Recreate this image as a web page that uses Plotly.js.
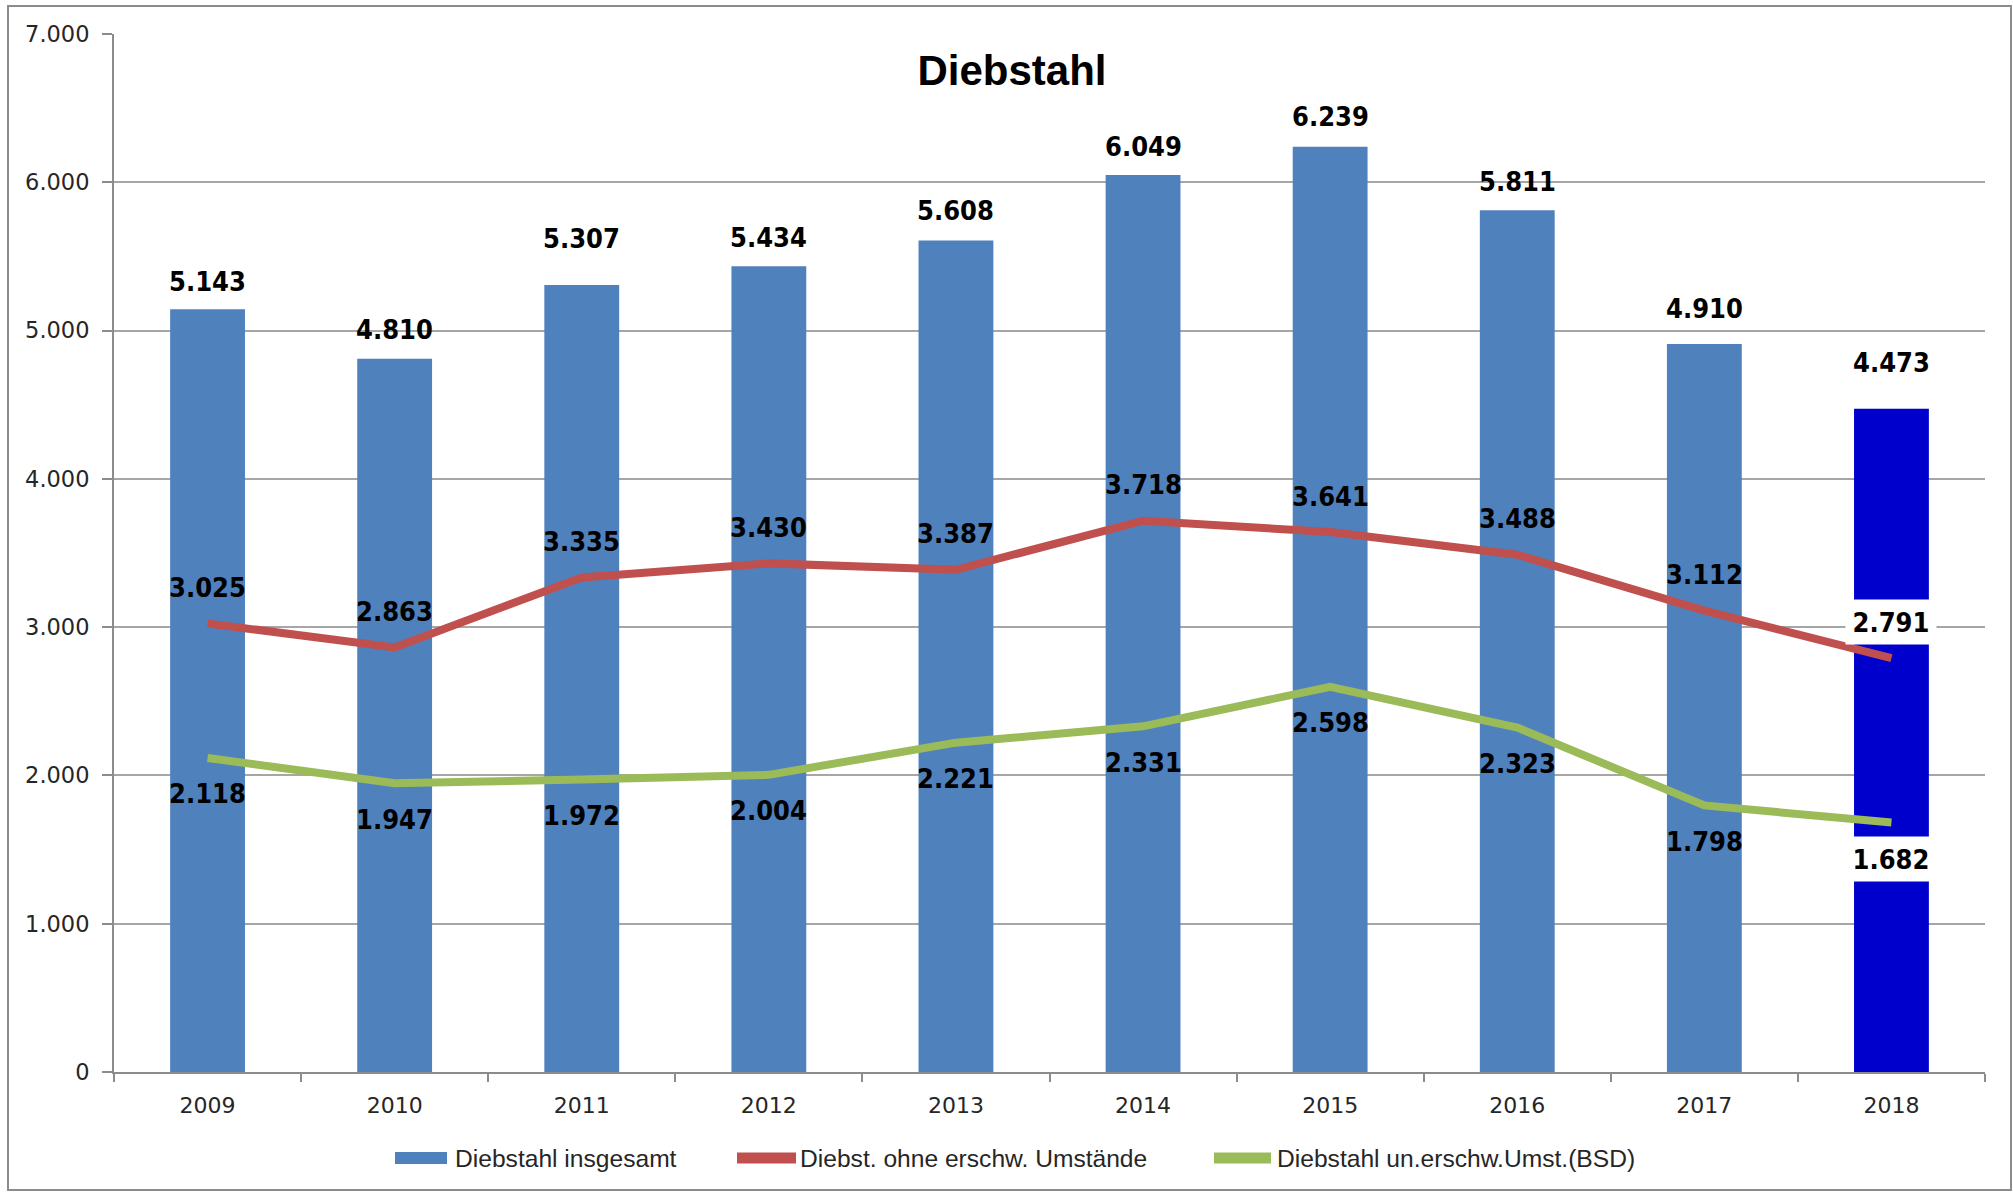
<!DOCTYPE html>
<html>
<head>
<meta charset="utf-8">
<script src="https://cdn.plot.ly/plotly-3.0.1.min.js"></script>
<style>
html, body { margin: 0; padding: 0; background: #ffffff; }
#chart { width: 2013px; height: 1192px; }
</style>
</head>
<body>
<div id="chart"></div>
<script>
// ---- Data ----
var years = ['2009', '2010', '2011', '2012', '2013', '2014', '2015', '2016', '2017', '2018'];
var totalTheft = [5143, 4810, 5307, 5434, 5608, 6049, 6239, 5811, 4910, 4473];
var theftSimple = [3025, 2863, 3335, 3430, 3387, 3718, 3641, 3488, 3112, 2791];
var theftAggravated = [2118, 1947, 1972, 2004, 2221, 2331, 2598, 2323, 1798, 1682];
var seriesNames = ['Diebstahl insgesamt', 'Diebst. ohne erschw. Umstände', 'Diebstahl un.erschw.Umst.(BSD)'];
var chartTitle = 'Diebstahl';

// ---- Styles ----
var barColor = '#4F81BD';
var barHighlight = '#0000CC';
var redColor = '#C0504D';
var greenColor = '#9BBB59';
var gridColor = '#A6A6A6';
var axisColor = '#8C8C8C';
var textColor = '#262626';
var labelFont = { family: 'DejaVu Sans Condensed, DejaVu Sans, sans-serif', size: 27, color: '#000000', weight: 'bold' };
var barLabelShift = [28, 29, 47, 29, 30, 29, 30, 29, 35, 46];

// plot area in pixels
var W = 2013, H = 1192;
var L = 114, R = 1985, T = 34, B = 1072;
function px(x) { return (x - L) / (R - L); }
function py(y) { return (B - y) / (B - T); }

function fmt(v) {
  var s = Math.round(v).toString();
  var out = '';
  while (s.length > 3) { out = '.' + s.slice(-3) + out; s = s.slice(0, -3); }
  return s + out;
}

var lastIdx = years.length - 1;
var barColors = years.map(function (y, i) { return i === lastIdx ? barHighlight : barColor; });

var traces = [
  {
    type: 'bar', x: years, y: totalTheft, name: seriesNames[0],
    marker: { color: barColors, line: { width: 0 } },
    hoverinfo: 'x+y', showlegend: false
  },
  {
    type: 'scatter', mode: 'lines', x: years, y: theftSimple, name: seriesNames[1],
    line: { color: redColor, width: 8 }, showlegend: false
  },
  {
    type: 'scatter', mode: 'lines', x: years, y: theftAggravated, name: seriesNames[2],
    line: { color: greenColor, width: 8 }, showlegend: false
  }
];

var annotations = [];
years.forEach(function (yr, i) {
  // on a category axis, annotations are placed by category index
  annotations.push({
    x: i, y: totalTheft[i], xref: 'x', yref: 'y', text: fmt(totalTheft[i]),
    showarrow: false, yanchor: 'middle', yshift: barLabelShift[i], font: labelFont
  });
  var last = (i === lastIdx);
  var a1 = {
    x: i, y: theftSimple[i], xref: 'x', yref: 'y', text: fmt(theftSimple[i]),
    showarrow: false, yanchor: 'middle', yshift: 36, font: labelFont
  };
  var a2 = {
    x: i, y: theftAggravated[i], xref: 'x', yref: 'y', text: fmt(theftAggravated[i]),
    showarrow: false, yanchor: 'middle', yshift: -36, font: labelFont
  };
  if (last) {
    a1.bgcolor = '#ffffff'; a1.width = 88; a1.height = 42;
    a2.bgcolor = '#ffffff'; a2.width = 88; a2.height = 42;
  }
  annotations.push(a1);
  annotations.push(a2);
});

// custom legend
var legY = py(1158);
var legFont = { family: 'Liberation Sans, Arial, sans-serif', size: 24.6, color: textColor };
annotations.push({ xref: 'paper', yref: 'paper', x: px(453), y: legY, text: seriesNames[0], showarrow: false, xanchor: 'left', yanchor: 'middle', font: legFont });
annotations.push({ xref: 'paper', yref: 'paper', x: px(798), y: legY, text: seriesNames[1], showarrow: false, xanchor: 'left', yanchor: 'middle', font: legFont });
annotations.push({ xref: 'paper', yref: 'paper', x: px(1275), y: legY, text: seriesNames[2], showarrow: false, xanchor: 'left', yanchor: 'middle', font: legFont });

var shapes = [
  // outer chart border
  { type: 'rect', xref: 'paper', yref: 'paper', x0: px(8), x1: px(2011), y0: py(1190), y1: py(6),
    line: { color: axisColor, width: 2 }, fillcolor: 'rgba(0,0,0,0)', layer: 'below' },
  // legend symbols
  { type: 'rect', xref: 'paper', yref: 'paper', x0: px(395), x1: px(447), y0: py(1164), y1: py(1152),
    line: { width: 0 }, fillcolor: barColor },
  { type: 'line', xref: 'paper', yref: 'paper', x0: px(737), x1: px(796), y0: legY, y1: legY,
    line: { color: redColor, width: 11 } },
  { type: 'line', xref: 'paper', yref: 'paper', x0: px(1214), x1: px(1271), y0: legY, y1: legY,
    line: { color: greenColor, width: 11 } }
];

var layout = {
  width: W, height: H,
  margin: { l: L, r: W - R, t: T, b: H - B, pad: 0 },
  paper_bgcolor: '#ffffff', plot_bgcolor: '#ffffff',
  separators: ',.',
  showlegend: false,
  bargap: 0.6,
  title: {
    text: chartTitle, xref: 'container', x: 1012 / W, xanchor: 'center',
    yref: 'container', y: 1 - 70 / H, yanchor: 'middle',
    font: { family: 'Liberation Sans, Arial, sans-serif', size: 42, color: '#000000', weight: 'bold' }
  },
  xaxis: {
    type: 'category', range: [-0.5, years.length - 0.5], autorange: false,
    tickson: 'boundaries', ticks: 'outside', ticklen: 8, tickwidth: 2, tickcolor: axisColor,
    showline: true, linecolor: axisColor, linewidth: 2, showgrid: false, zeroline: false,
    tickangle: 0,
    tickfont: { family: 'DejaVu Sans, sans-serif', size: 22, color: textColor },
    ticklabelstandoff: 13, fixedrange: true
  },
  yaxis: {
    range: [0, 7000], autorange: false, dtick: 1000, tick0: 0, tickformat: ',d',
    ticks: 'outside', ticklen: 10, tickwidth: 2, tickcolor: axisColor,
    showline: true, linecolor: axisColor, linewidth: 2,
    showgrid: true, gridcolor: gridColor, gridwidth: 2, zeroline: false,
    tickfont: { family: 'DejaVu Sans, sans-serif', size: 22.5, color: textColor },
    ticklabelstandoff: 8, fixedrange: true
  },
  annotations: annotations,
  shapes: shapes
};

Plotly.newPlot('chart', traces, layout, { staticPlot: true, displayModeBar: false });
</script>
</body>
</html>
